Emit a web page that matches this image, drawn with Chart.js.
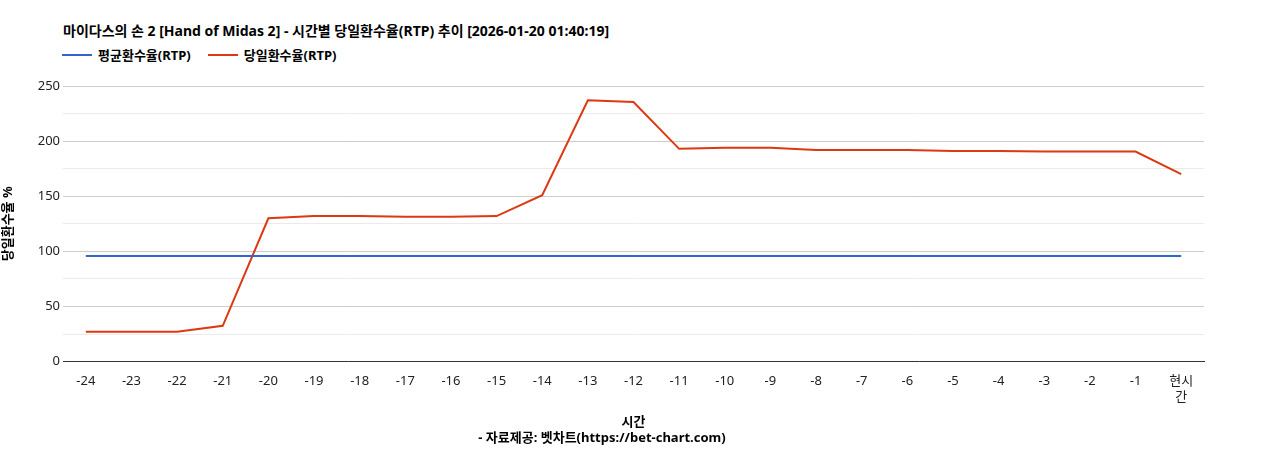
<!DOCTYPE html>
<html><head><meta charset="utf-8">
<script src="https://cdn.jsdelivr.net/npm/chart.js@4/dist/chart.umd.min.js"></script>
<style>body{margin:0;background:#fff;font-family:'Noto Sans','Noto Sans CJK KR',sans-serif}
#h{height:70px;padding-left:63px;box-sizing:border-box}
#t{padding-top:21px;font-size:14px;font-weight:bold;color:#000;line-height:20px}
#lg{margin-top:4px;font-size:13px;font-weight:bold;color:#000;display:flex;line-height:20px}
#lg span{display:inline-flex;align-items:center;margin-right:18px}
#lg i{display:inline-block;width:30px;height:2px;margin-right:6px;margin-left:-1px}
#w{width:1268px;height:380px}</style></head>
<body><div id="h"><div id="t">마이다스의 손 2 [Hand of Midas 2] - 시간별 당일환수율(RTP) 추이 [2026-01-20 01:40:19]</div><div id="lg"></div></div>
<div id="w"><canvas id="c"></canvas></div>
<script>
const categories=["-24","-23","-22","-21","-20","-19","-18","-17","-16","-15","-14","-13","-12","-11","-10","-9","-8","-7","-6","-5","-4","-3","-2","-1",["현시","간"]];
const avgRTP=[95.7,95.7,95.7,95.7,95.7,95.7,95.7,95.7,95.7,95.7,95.7,95.7,95.7,95.7,95.7,95.7,95.7,95.7,95.7,95.7,95.7,95.7,95.7,95.7,95.7];
const dailyRTP=[27,27,27,32.5,130,132,132,131.5,131.5,132,151,237,235.5,193,194,194,192,192,192,191,191,190.5,190.5,190.5,170];
const F="'Noto Sans','Noto Sans CJK KR',sans-serif";
Chart.defaults.font.family=F;Chart.defaults.color='#222';
const ch=new Chart(document.getElementById('c'),{type:'line',
data:{labels:categories,datasets:[
{label:'평균환수율(RTP)',data:avgRTP,borderColor:'#3366cc',backgroundColor:'#3366cc',borderWidth:2,pointRadius:0,tension:0},
{label:'당일환수율(RTP)',data:dailyRTP,borderColor:'#dc3912',backgroundColor:'#dc3912',borderWidth:2,pointRadius:0,tension:0}]},
options:{responsive:true,maintainAspectRatio:false,animation:false,
layout:{padding:{left:0,right:64,top:16,bottom:0}},
plugins:{legend:{display:false},
subtitle:{display:true,position:'bottom',text:'- 자료제공: 벳차트(https://bet-chart.com)',font:{size:13,weight:'bold'},color:'#000',padding:{top:0,bottom:4}},
tooltip:{enabled:false}},
scales:{x:{offset:true,grid:{display:false},border:{color:'#333'},ticks:{font:{size:13},color:'#222',maxRotation:0,autoSkip:false,padding:4},
title:{display:true,text:'시간',font:{size:13,weight:'bold'},color:'#000',padding:{top:6,bottom:0}}},
y:{min:0,max:250,afterFit:s=>{s.width=63},ticks:{stepSize:25,font:{size:13},color:'#222',callback:v=>v%50===0?v:''},
grid:{color:c=>c.tick.value%50===0?'#ccc':'#ebebeb',tickLength:0},border:{display:false},
title:{display:true,text:'당일환수율 %',font:{size:13,weight:'bold'},color:'#000',padding:{top:0,bottom:0}}}}}});
document.getElementById('lg').innerHTML=ch.data.datasets.map(d=>`<span><i style="background:${d.borderColor}"></i>${d.label}</span>`).join('');
</script></body></html>
